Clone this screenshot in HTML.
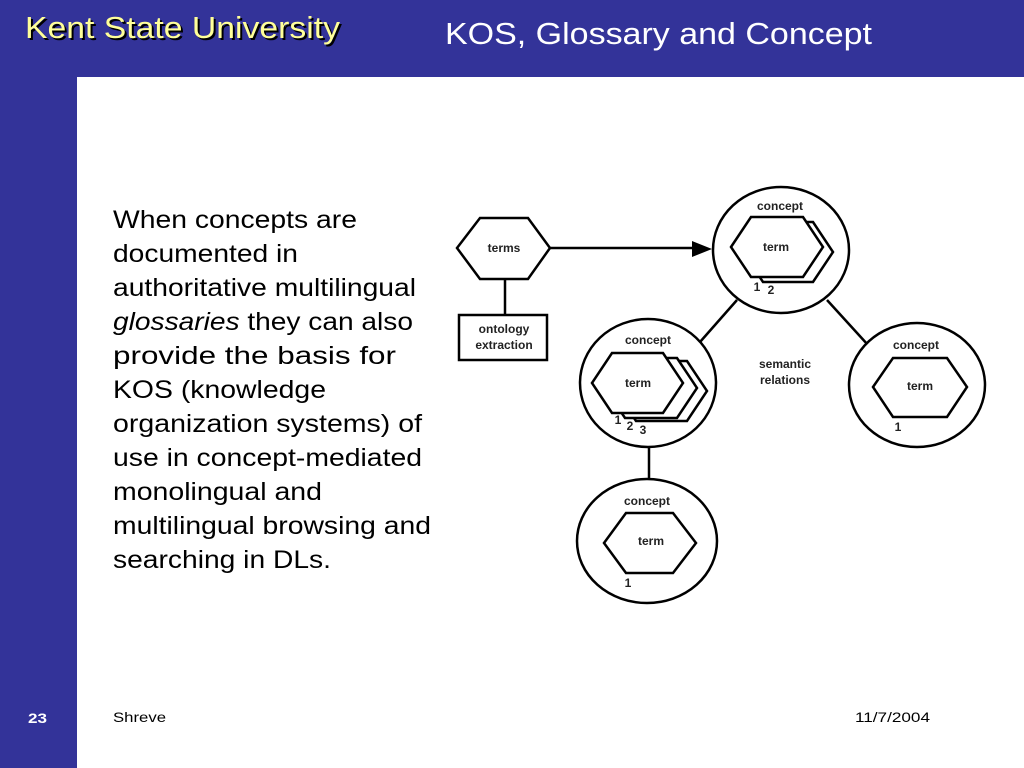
<!DOCTYPE html>
<html><head><meta charset="utf-8"><style>
html,body{margin:0;padding:0;width:1024px;height:768px;overflow:hidden;background:#fff}
svg{display:block}
svg text{font-family:"Liberation Sans", Arial, Helvetica, sans-serif}
</style></head><body>
<svg width="1024" height="768" viewBox="0 0 1024 768" xmlns="http://www.w3.org/2000/svg">
<rect x="0" y="0" width="1024" height="768" fill="#333399"/>
<rect x="77" y="77" width="947" height="691" fill="#fff"/>
<text x="27" y="40" font-size="31" fill="#000" textLength="315" lengthAdjust="spacingAndGlyphs">Kent State University</text>
<text x="25" y="38" font-size="31" fill="#ffff99" textLength="315" lengthAdjust="spacingAndGlyphs">Kent State University</text>
<text x="445" y="44" font-size="31" fill="#fff" textLength="427" lengthAdjust="spacingAndGlyphs">KOS, Glossary and Concept</text>
<g font-size="25" fill="#000">
<text x="113" y="228" textLength="244" lengthAdjust="spacingAndGlyphs">When concepts are</text>
<text x="113" y="262" textLength="185" lengthAdjust="spacingAndGlyphs">documented in</text>
<text x="113" y="296" textLength="303" lengthAdjust="spacingAndGlyphs">authoritative multilingual</text>
<text x="113" y="330" textLength="300" lengthAdjust="spacingAndGlyphs"><tspan font-style="italic">glossaries</tspan> they can also</text>
<text x="113" y="364" textLength="283" lengthAdjust="spacingAndGlyphs">provide the basis for</text>
<text x="113" y="398" textLength="213" lengthAdjust="spacingAndGlyphs">KOS (knowledge</text>
<text x="113" y="432" textLength="309" lengthAdjust="spacingAndGlyphs">organization systems) of</text>
<text x="113" y="466" textLength="309" lengthAdjust="spacingAndGlyphs">use in concept-mediated</text>
<text x="113" y="500" textLength="209" lengthAdjust="spacingAndGlyphs">monolingual and</text>
<text x="113" y="534" textLength="318" lengthAdjust="spacingAndGlyphs">multilingual browsing and</text>
<text x="113" y="568" textLength="218" lengthAdjust="spacingAndGlyphs">searching in DLs.</text>
</g>
<text x="28" y="723" font-size="14" font-weight="bold" fill="#fff" textLength="19" lengthAdjust="spacingAndGlyphs">23</text>
<text x="113" y="722" font-size="14" fill="#000" textLength="53" lengthAdjust="spacingAndGlyphs">Shreve</text>
<text x="855" y="722" font-size="14" fill="#000" textLength="75" lengthAdjust="spacingAndGlyphs">11/7/2004</text>

<g stroke="#000" stroke-width="2.5" fill="#fff">
<line x1="550" y1="248" x2="695" y2="248"/>
<line x1="505" y1="279" x2="505" y2="315"/>
<line x1="737" y1="300" x2="700" y2="342"/>
<line x1="827" y1="300" x2="868" y2="345"/>
<line x1="649" y1="447" x2="649" y2="479"/>
<polygon points="457,248 480,218 528,218 550,248 528,279 480,279"/>
<rect x="459" y="315" width="88" height="45"/>
<ellipse cx="781" cy="250" rx="68" ry="63"/>
<polygon points="743,252 763,222 813,222 833,252 813,282 763,282"/>
<polygon points="731,247 751,217 803,217 823,247 803,277 751,277"/>
<ellipse cx="648" cy="383" rx="68" ry="64"/>
<polygon points="616,391 636,361 687,361 707,391 687,421 636,421"/>
<polygon points="605,388 625,358 677,358 697,388 677,418 625,418"/>
<polygon points="592,383 612,353 663,353 683,383 663,413 612,413"/>
<ellipse cx="917" cy="385" rx="68" ry="62"/>
<polygon points="873,387 893,358 947,358 967,387 947,417 893,417"/>
<ellipse cx="647" cy="541" rx="70" ry="62"/>
<polygon points="604,543 626,513 673,513 696,543 673,573 626,573"/>
</g>
<polygon points="712,249 692,241 692,257" fill="#000"/>
<g font-size="12" font-weight="bold" fill="#222" text-anchor="middle">
<text x="504" y="252">terms</text>
<text x="504" y="333">ontology</text>
<text x="504" y="349">extraction</text>
<text x="780" y="210">concept</text>
<text x="776" y="251">term</text>
<text x="648" y="344">concept</text>
<text x="638" y="387">term</text>
<text x="916" y="349">concept</text>
<text x="920" y="390">term</text>
<text x="647" y="505">concept</text>
<text x="651" y="545">term</text>
<text x="785" y="368">semantic</text>
<text x="785" y="384">relations</text>
<text x="757" y="291">1</text>
<text x="771" y="294">2</text>
<text x="618" y="424">1</text>
<text x="630" y="430">2</text>
<text x="643" y="434">3</text>
<text x="898" y="431">1</text>
<text x="628" y="587">1</text>
</g>
</svg>
</body></html>
